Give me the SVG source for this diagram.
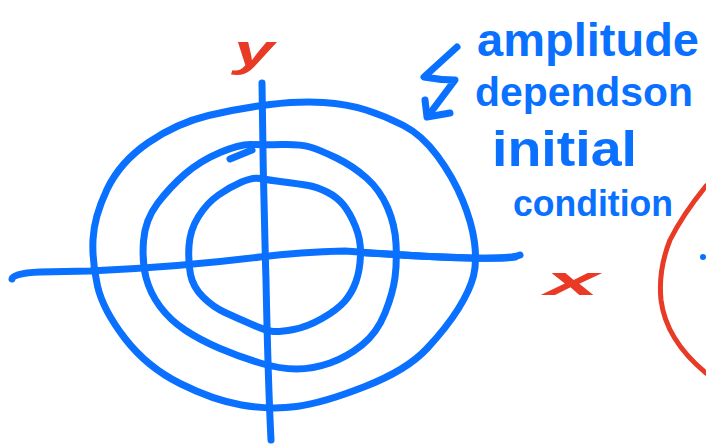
<svg xmlns="http://www.w3.org/2000/svg" width="706" height="447" viewBox="0 0 706 447">
  <style>
    .b { fill: none; stroke: #0a70ff; stroke-width: 7; stroke-linecap: round; stroke-linejoin: round; }
    .r { fill: none; stroke: #e83a25; stroke-width: 5; stroke-linecap: round; stroke-linejoin: round; }
    .tb { fill: #0a70ff; font-family: "Liberation Sans", Arial, sans-serif; font-weight: bold; }
    .tr { fill: #e83a25; font-family: "Liberation Sans", Arial, sans-serif; font-style: italic; font-weight: bold; }
  </style>
  <rect width="706" height="447" fill="#ffffff"/>
  <g id="orbits">
    <path id="outer" class="b" stroke-width="8" d="M323.5,102.5 Q347,104 366,110 Q385,116 403.5,125.5 Q422,135 437.5,156 Q453,177 462.5,200 Q472,223 474.5,242.5 Q477,262 473.5,276 Q470,290 458.5,308.5 Q447,327 427,348.5 Q407,370 365,386.5 Q323,403 296.5,406.5 Q270,410 241.5,405 Q213,400 180,383.5 Q147,367 125,338.5 Q103,310 97.5,286 Q92,262 93,239.5 Q94,217 107,189.5 Q120,162 148.5,142.5 Q177,123 208.5,115.5 Q240,108 270,104.5 Q300,101 323.5,102.5 Z"/>
    <path id="middle" class="b" d="M310,147 Q320,150 336.5,158 Q353,166 366.5,178 Q380,190 387.5,207.5 Q395,225 396,243.5 Q397,262 395,277.5 Q393,293 385,313 Q377,333 362,345 Q347,357 330,363 Q313,369 296.5,369 Q280,369 260,363 Q240,357 220,348.5 Q200,340 185,330 Q170,320 160,306.5 Q150,293 146,277.5 Q142,262 143.5,241 Q145,220 157.5,203.5 Q170,187 185,174 Q200,161 220,152.5 Q240,144 251.5,144.5 Q263,145 281.5,144.5 Q300,144 310,147 Z"/>
    <path class="b" stroke-width="5" d="M230,159 L252,150"/>
    <path id="inner" class="b" d="M308.5,185.5 Q317,187 327,192 Q337,197 343.5,205 Q350,213 355.5,226.5 Q361,240 360.5,255 Q360,270 356,281.5 Q352,293 344.5,301.5 Q337,310 322,318.5 Q307,327 293.5,329.5 Q280,332 273.5,331.5 Q267,331 252,324.5 Q237,318 225,312.5 Q213,307 203,297 Q193,287 190.5,274.5 Q188,262 189,246 Q190,230 198.5,216.5 Q207,203 218.5,195 Q230,187 241.5,182 Q253,177 260.5,178.5 Q268,180 284,182 Q300,184 308.5,185.5 Z"/>
  </g>
  <g id="axes">
    <path id="x-axis" class="b" stroke-width="6" d="M12,279 Q13,273 40,272 L90,271 Q180,267 260,257 Q300,252 345,251 L387,254 Q430,257 470,258 Q510,259 520,255"/>
    <path class="b" stroke-width="9" d="M365,253 L387,254 Q430,257 470,258 Q505,259 515,257"/>
    <path id="y-axis" class="b" stroke-width="7" d="M262,83 Q263,180 266,280 Q268,380 271,440"/>
  </g>
  <g id="arrow">
    <path class="b" stroke-width="6" d="M457,47 L424,77 Q440,80 455,80 L428,116"/>
    <path class="b" stroke-width="6" d="M425,100 L427,117 L450,113"/>
  </g>
  <g id="labels">
    <text class="tr" x="234" y="66" font-size="44" textLength="40" lengthAdjust="spacingAndGlyphs">y</text>
    <text class="tr" x="545" y="295" font-size="40" textLength="54" lengthAdjust="spacingAndGlyphs">x</text>
    <text class="tb" x="477" y="56" font-size="46" textLength="222" lengthAdjust="spacingAndGlyphs">amplitude</text>
    <text class="tb" x="475" y="106" font-size="41" textLength="218" lengthAdjust="spacingAndGlyphs">dependson</text>
    <text class="tb" x="492" y="166" font-size="50" textLength="145" lengthAdjust="spacingAndGlyphs">initial</text>
    <text class="tb" x="513" y="216" font-size="36" textLength="160" lengthAdjust="spacingAndGlyphs">condition</text>
  </g>
  <g id="side-circle">
    <path class="r" d="M706,186 Q683,214 670,240 Q658,270 661,300 Q666,340 706,373"/>
    <circle cx="703" cy="257" r="3" fill="#0a70ff"/>
  </g>
</svg>
